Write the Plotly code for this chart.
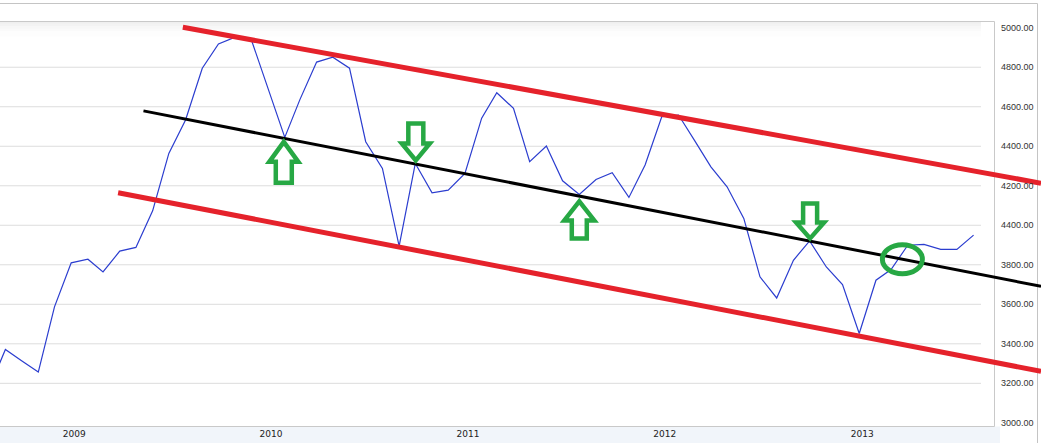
import plotly.graph_objects as go

# ---------------- data ----------------
months = [
    "2008-08-01", "2008-09-01", "2008-10-01", "2008-11-01", "2008-12-01",
    "2009-01-01", "2009-02-01", "2009-03-01", "2009-04-01", "2009-05-01", "2009-06-01",
    "2009-07-01", "2009-08-01", "2009-09-01", "2009-10-01", "2009-11-01", "2009-12-01",
    "2010-01-01", "2010-02-01", "2010-03-01", "2010-04-01", "2010-05-01", "2010-06-01",
    "2010-07-01", "2010-08-01", "2010-09-01", "2010-10-01", "2010-11-01", "2010-12-01",
    "2011-01-01", "2011-02-01", "2011-03-01", "2011-04-01", "2011-05-01", "2011-06-01",
    "2011-07-01", "2011-08-01", "2011-09-01", "2011-10-01", "2011-11-01", "2011-12-01",
    "2012-01-01", "2012-02-01", "2012-03-01", "2012-04-01", "2012-05-01", "2012-06-01",
    "2012-07-01", "2012-08-01", "2012-09-01", "2012-10-01", "2012-11-01", "2012-12-01",
    "2013-01-01", "2013-02-01", "2013-03-01", "2013-04-01", "2013-05-01", "2013-06-01",
    "2013-07-01", "2013-08-01",
]
values = [
    3170, 3371, 3314, 3257, 3587,
    3810, 3828, 3764, 3869, 3888, 4073,
    4364, 4533, 4795, 4918, 4952, 4939,
    4694, 4445, 4636, 4826, 4851, 4795,
    4423, 4288, 3894, 4313, 4164, 4178,
    4263, 4542, 4671, 4592, 4322, 4401,
    4225, 4156, 4232, 4266, 4141, 4305,
    4550, 4558, 4432, 4296, 4195, 4035,
    3739, 3632, 3823, 3921, 3789, 3700,
    3452, 3722, 3776, 3899, 3903, 3878,
    3878, 3950,
]

year_ticks = ["2009-01-01", "2010-01-01", "2011-01-01", "2012-01-01", "2013-01-01"]
year_labels = ["2009", "2010", "2011", "2012", "2013"]

y_ticks = [3000, 3200, 3400, 3600, 3800, 4000, 4200, 4400, 4600, 4800, 5000]
y_labels = ["3000.00", "3200.00", "3400.00", "3600.00", "3800.00", "4400.00",
            "4200.00", "4400.00", "4600.00", "4800.00", "5000.00"]

# trend channel (start date, start value, end date, end value)
upper_channel = ["2009-07-27", 5002, "2013-12-04", 4213]
lower_channel = ["2009-03-29", 4165, "2013-12-04", 3261]
middle_line = ["2009-05-15", 4579, "2013-12-04", 3691]

# markers: (month, direction)
arrow_points = [("2010-02-01", "up"), ("2010-10-01", "down"),
                ("2011-08-01", "up"), ("2012-10-01", "down")]
circle_point = ["2013-03-22", 3828]

x_range = ["2008-08-22", "2013-12-04"]
y_range = [2984, 5034]

# ---------------- figure ----------------
W, H = 1041, 443
ML, MR, MT, MB = 0, 0, 21, 17
PH = H - MT - MB

def py(pixel_y):
    """pixel row -> paper y"""
    return (H - MB - pixel_y) / PH

def px(pixel_x):
    return pixel_x / W

fig = go.Figure()
fig.add_trace(go.Scatter(x=months, y=values, mode="lines",
                         line=dict(color="#2b3dcf", width=1.2),
                         hoverinfo="skip", showlegend=False))

shapes = []
# background frame pieces
shapes.append(dict(type="rect", xref="paper", yref="paper", x0=0, x1=px(1000),
                   y0=py(443), y1=py(426.5), fillcolor="#f1f5fa", line_width=0, layer="below"))
for i, c in enumerate(["#efefef", "#f3f3f3", "#f7f7f7", "#fafafa", "#fdfdfd"]):
    shapes.append(dict(type="rect", xref="paper", yref="paper", x0=0, x1=px(981),
                       y0=py(24 + 2.5 * (i + 1)), y1=py(21 + 2.5 * i),
                       fillcolor=c, line_width=0, layer="below"))
for v in y_ticks[1:-1]:
    shapes.append(dict(type="line", xref="paper", yref="y", x0=0, x1=px(981),
                       y0=v, y1=v, line=dict(color="#dddddd", width=1), layer="below"))
shapes.append(dict(type="rect", xref="paper", yref="paper", x0=px(-3), x1=px(994.5),
                   y0=py(426.5), y1=py(21.5), line=dict(color="#c9c9c9", width=1),
                   fillcolor="rgba(0,0,0,0)", layer="below"))
shapes.append(dict(type="line", xref="paper", yref="paper", x0=0, x1=px(1037.5),
                   y0=py(3.5), y1=py(3.5), line=dict(color="#c4c4c4", width=1), layer="below"))
shapes.append(dict(type="line", xref="paper", yref="paper", x0=px(1037.5), x1=px(1037.5),
                   y0=py(443), y1=py(3.5), line=dict(color="#c4c4c4", width=1), layer="below"))

# channel lines
for ln, col, w in [(upper_channel, "#e5222b", 5), (lower_channel, "#e5222b", 5),
                   (middle_line, "#000000", 3)]:
    shapes.append(dict(type="line", xref="x", yref="y", x0=ln[0], y0=ln[1],
                       x1=ln[2], y1=ln[3], line=dict(color=col, width=w), layer="above"))

# green arrows (pixel-sized, anchored at data points)
arrow_geom = {
    "2010-02-01": dict(tx=-1, ty=-4.5, hw=14.5, hh=20, sw=8, L=41),
    "2010-10-01": dict(tx=0.5, ty=3, hw=14, hh=17, sw=7.5, L=37),
    "2011-08-01": dict(tx=0, ty=-7, hw=15, hh=19, sw=7.5, L=37),
    "2012-10-01": dict(tx=0.5, ty=2.5, hw=14, hh=16, sw=7, L=35),
}
for m, d in arrow_points:
    g = arrow_geom[m]
    s = 1 if d == "up" else -1
    tx, ty, hw, hh, sw, L = g["tx"], g["ty"], g["hw"], g["hh"], g["sw"], g["L"]
    pts = [(tx, ty), (tx + hw, ty - s * hh), (tx + sw, ty - s * hh), (tx + sw, ty - s * L),
           (tx - sw, ty - s * L), (tx - sw, ty - s * hh), (tx - hw, ty - s * hh)]
    path = "M" + " L".join(f"{a:.1f},{b:.1f}" for a, b in pts) + " Z"
    shapes.append(dict(type="path", xref="x", yref="y", xsizemode="pixel", ysizemode="pixel",
                       xanchor=m, yanchor=values[months.index(m)], path=path,
                       line=dict(color="#27a844", width=4.5), fillcolor="rgba(0,0,0,0)",
                       layer="above"))

shapes.append(dict(type="circle", xref="x", yref="y", xsizemode="pixel", ysizemode="pixel",
                   xanchor=circle_point[0], yanchor=circle_point[1],
                   x0=-20, x1=20, y0=-14.5, y1=14.5,
                   line=dict(color="#27a844", width=5), layer="above"))

annotations = []
for v, t in zip(y_ticks, y_labels):
    annotations.append(dict(xref="paper", yref="y", x=1, y=v, text=t, showarrow=False,
                            xanchor="right", yanchor="middle", xshift=-5,
                            font=dict(family="Liberation Sans", size=9, color="#333333")))

fig.update_layout(
    width=W, height=H,
    margin=dict(l=ML, r=MR, t=MT, b=MB, pad=0),
    paper_bgcolor="white", plot_bgcolor="rgba(0,0,0,0)",
    shapes=shapes, annotations=annotations,
    xaxis=dict(type="date", range=x_range, tickvals=year_ticks, ticktext=year_labels,
               showgrid=False, zeroline=False, showline=False, ticks="",
               ticklabelshift=3, ticklabelstandoff=1,
               tickfont=dict(family="DejaVu Sans", size=9, color="#222222"), fixedrange=True),
    yaxis=dict(range=y_range, showgrid=False, zeroline=False, showline=False,
               showticklabels=False, ticks="", fixedrange=True),
    showlegend=False,
)

fig.write_html("out.html", config={"displayModeBar": False},
               post_script="document.body.style.margin='0';document.body.style.overflow='hidden';")
